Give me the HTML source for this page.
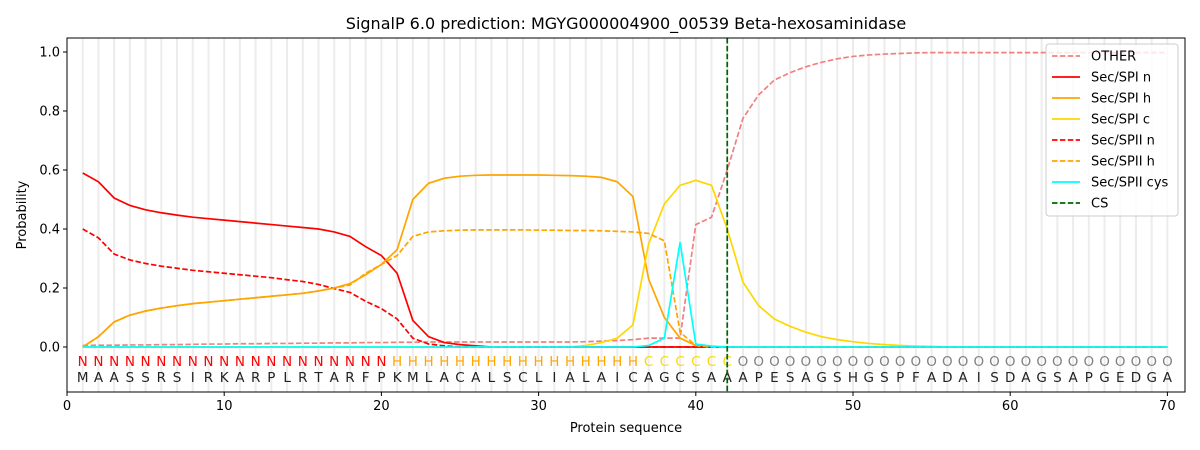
<!DOCTYPE html>
<html><head><meta charset="utf-8"><style>
body{margin:0;background:#fff;}
svg{display:block;font-family:"DejaVu Sans","Liberation Sans",sans-serif;}
</style></head><body>
<svg id="s" width="1200" height="450" xmlns="http://www.w3.org/2000/svg">
<rect width="1200" height="450" fill="#fff"/>
<text x="626" y="29" font-size="16" text-anchor="middle" fill="#000">SignalP 6.0 prediction: MGYG000004900_00539 Beta-hexosaminidase</text>
<g id="g"></g>
</svg>
<script>
const X=v=>67+v*15.72, Y=v=>347-v*295;
const g=document.getElementById('g');let h='';
for(let i=1;i<=70;i++)h+=`<line x1="${X(i)}" y1="38" x2="${X(i)}" y2="392" stroke="#ececec" stroke-width="2"/>`;
const seq="MAASSRSIRKARPLRTARFPKMLACALSCLIALAICAGCSAAAPESAGSHGSPFADAISDAGSAPGEDGA";
for(let i=1;i<=70;i++){let l,c;if(i<=20){l='N';c='#ff0000'}else if(i<=36){l='H';c='#ffa500'}else if(i<=42){l='C';c='#ffd700'}else{l='O';c='#808080'}
h+=`<text x="${X(i)}" y="366" font-size="13.5" text-anchor="middle" fill="${c}">${l}</text><text x="${X(i)}" y="382" font-size="13.5" text-anchor="middle" fill="#222">${seq[i-1]}</text>`;}
function pad(a){while(a.length<70)a.push(0);return a;}
const other=[0.005,0.006,0.006,0.007,0.007,0.008,0.008,0.009,0.01,0.01,0.011,0.011,0.012,0.012,0.013,0.013,0.014,0.014,0.015,0.015,0.016,0.016,0.017,0.017,0.017,0.017,0.017,0.017,0.017,0.017,0.017,0.017,0.018,0.02,0.022,0.025,0.03,0.03,0.03,0.415,0.44,0.6,0.775,0.855,0.905,0.93,0.95,0.965,0.977,0.985,0.99,0.993,0.995,0.997,0.998];
while(other.length<70)other.push(0.998);
const n1=pad([0.59,0.56,0.505,0.48,0.465,0.455,0.447,0.44,0.435,0.43,0.425,0.42,0.415,0.41,0.405,0.4,0.39,0.375,0.34,0.31,0.25,0.09,0.035,0.015,0.008,0.004]);
const h1=pad([0,0.035,0.085,0.108,0.122,0.132,0.14,0.147,0.152,0.157,0.162,0.167,0.172,0.177,0.182,0.19,0.2,0.215,0.245,0.28,0.33,0.5,0.555,0.572,0.579,0.582,0.583,0.583,0.583,0.583,0.582,0.581,0.579,0.575,0.56,0.51,0.23,0.1,0.03,0.005]);
const c1=pad([0,0,0,0,0,0,0,0,0,0,0,0,0,0,0,0,0,0,0,0,0,0,0,0,0,0,0,0,0,0,0,0,0.005,0.015,0.03,0.075,0.35,0.485,0.548,0.565,0.548,0.4,0.22,0.14,0.095,0.07,0.05,0.035,0.025,0.018,0.012,0.008,0.005,0.003,0.002]);
const n2=pad([0.4,0.37,0.315,0.295,0.283,0.274,0.267,0.26,0.255,0.25,0.245,0.24,0.235,0.228,0.222,0.212,0.198,0.185,0.155,0.13,0.095,0.03,0.01,0.004]);
const h2=pad([0,0.035,0.085,0.108,0.122,0.132,0.14,0.147,0.152,0.157,0.162,0.167,0.172,0.177,0.182,0.19,0.2,0.21,0.25,0.28,0.31,0.375,0.39,0.394,0.396,0.397,0.397,0.397,0.397,0.396,0.396,0.395,0.395,0.394,0.392,0.39,0.385,0.36,0.05,0.005]);
const cy=pad([0,0,0,0,0,0,0,0,0,0,0,0,0,0,0,0,0,0,0,0,0,0,0,0,0,0,0,0,0,0,0,0,0,0,0,0,0.005,0.03,0.355,0.01,0.003]);
function line(a,c,d){return `<polyline fill="none" stroke="${c}" stroke-width="1.7" ${d?'stroke-dasharray="5.5,2.4"':''} points="${a.map((v,i)=>X(i+1)+','+Y(v)).join(' ')}"/>`;}
h+=line(other,'#f08080',1)+line(n1,'#ff0000')+line(h1,'#ffa500')+line(c1,'#ffd700')+line(n2,'#ff0000',1)+line(h2,'#ffa500',1)+line(cy,'#00ffff');
h+=`<line x1="${X(42)}" y1="38" x2="${X(42)}" y2="392" stroke="#006400" stroke-width="1.7" stroke-dasharray="5.5,2.4"/>`;
h+=`<rect x="67" y="38" width="1118" height="354" fill="none" stroke="#000" stroke-width="1"/>`;
for(let v=0;v<=70;v+=10)h+=`<line x1="${X(v)}" y1="392" x2="${X(v)}" y2="396" stroke="#000"/><text x="${X(v)}" y="410" font-size="13" text-anchor="middle">${v}</text>`;
for(let k=0;k<=5;k++){const v=k*0.2;h+=`<line x1="63" y1="${Y(v)}" x2="67" y2="${Y(v)}" stroke="#000"/><text x="60" y="${Y(v)+4.5}" font-size="13" text-anchor="end">${v.toFixed(1)}</text>`;}
h+=`<text x="626" y="432" font-size="13" text-anchor="middle">Protein sequence</text>`;
h+=`<text transform="translate(26,215) rotate(-90)" font-size="13" text-anchor="middle">Probability</text>`;
h+=`<rect x="1046" y="44" width="132" height="172" rx="3" fill="#fff" fill-opacity="0.8" stroke="#ccc"/>`;
const L=[['OTHER','#f08080',1],['Sec/SPI n','#ff0000'],['Sec/SPI h','#ffa500'],['Sec/SPI c','#ffd700'],['Sec/SPII n','#ff0000',1],['Sec/SPII h','#ffa500',1],['Sec/SPII cys','#00ffff'],['CS','#006400',1]];
L.forEach((e,i)=>{const y=56+i*21;h+=`<line x1="1052" y1="${y}" x2="1080" y2="${y}" stroke="${e[1]}" stroke-width="1.7" ${e[2]?'stroke-dasharray="5.5,2.4"':''}/><text x="1091" y="${y+4.5}" font-size="13">${e[0]}</text>`;});
g.innerHTML=h;
</script>
</body></html>
